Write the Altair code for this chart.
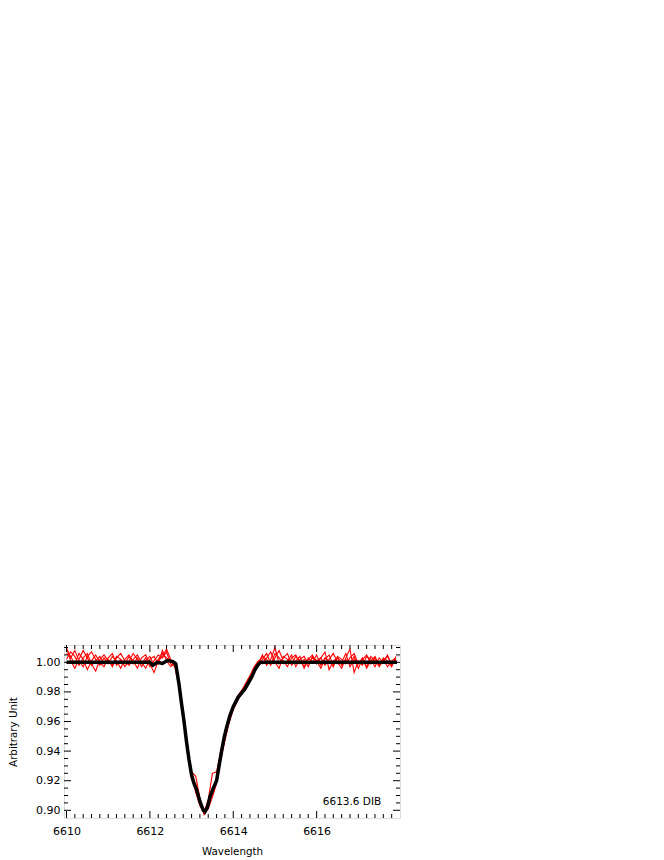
import altair as alt
import pandas as pd

# ---------------- data ----------------
WAVE_START = 6610.0
WAVE_STEP = 0.1
N_PTS = 80
WAVE = [round(WAVE_START + WAVE_STEP * i, 1) for i in range(N_PTS)]

RED_1 = [1.006, 1.003, 1.008, 1.001, 0.997, 1.004, 1.007, 1.002, 0.998, 1.003,
         0.999, 1.004, 1.001, 0.996, 1.002, 1.005, 0.999, 1.003, 0.997, 1.001,
         1.004, 0.998, 1.002, 1.006, 1.003, 1.001,
         0.998, 0.984, 0.962, 0.944, 0.922, 0.918, 0.904, 0.898, 0.905, 0.912,
         0.921, 0.938, 0.950, 0.960, 0.969, 0.976, 0.980, 0.985, 0.989, 0.996, 1.000,
         1.004, 1.002, 0.998, 1.006, 1.003, 0.999, 1.001, 1.005, 0.997, 1.002,
         1.004, 0.999, 1.003, 1.001, 0.996, 1.002, 1.005, 0.998, 1.003, 1.000,
         1.006, 0.997, 1.002, 0.999, 1.003, 0.996, 1.001, 1.004, 0.998, 1.002,
         0.997, 1.001, 1.003]
RED_2 = [1.009, 1.004, 0.999, 1.006, 1.002, 0.995, 1.001, 1.005, 1.000, 0.997,
         1.003, 1.006, 0.998, 1.002, 0.999, 1.004, 1.001, 0.996, 1.003, 1.005,
         0.999, 0.993, 1.001, 1.004, 1.009, 1.002,
         0.999, 0.986, 0.965, 0.941, 0.926, 0.923, 0.908, 0.897, 0.901, 0.909,
         0.918, 0.935, 0.947, 0.959, 0.968, 0.974, 0.979, 0.983, 0.988, 0.993, 0.999,
         1.002, 1.006, 0.999, 1.003, 1.008, 1.001, 0.997, 1.003, 1.005, 0.999,
         1.002, 0.997, 1.004, 1.001, 1.003, 0.998, 1.002, 1.006, 1.000, 0.996,
         1.003, 1.009, 0.993, 1.001, 0.998, 1.004, 1.002, 0.997, 1.003, 1.000,
         1.005, 0.998, 1.002]
RED_3 = [1.002, 1.007, 1.004, 0.998, 1.003, 1.006, 0.999, 0.994, 1.002, 1.005,
         1.001, 0.998, 1.004, 1.002, 0.997, 1.001, 1.006, 1.002, 0.999, 1.003,
         0.997, 1.001, 1.005, 1.003, 1.007, 0.999,
         0.997, 0.983, 0.960, 0.945, 0.925, 0.912, 0.903, 0.899, 0.907, 0.925,
         0.926, 0.940, 0.953, 0.962, 0.971, 0.977, 0.981, 0.986, 0.991, 0.997, 1.001,
         0.999, 1.003, 1.007, 1.000, 0.996, 1.004, 1.002, 0.999, 1.004, 1.001,
         0.997, 1.003, 1.000, 1.005, 0.998, 1.003, 1.001, 0.997, 1.004, 1.002,
         0.999, 1.003, 1.006, 0.999, 1.002, 0.997, 1.004, 1.001, 0.998, 1.003,
         1.001, 0.997, 1.004]
RED_4 = [1.010, 1.001, 0.996, 1.002, 1.008, 1.003, 0.998, 1.001, 1.004, 0.999,
         1.002, 0.997, 1.003, 1.006, 1.001, 0.998, 1.002, 1.005, 1.000, 0.996,
         1.002, 1.004, 0.999, 1.008, 1.001, 0.997,
         1.000, 0.987, 0.963, 0.939, 0.921, 0.916, 0.905, 0.900, 0.903, 0.911,
         0.919, 0.934, 0.948, 0.961, 0.969, 0.975, 0.980, 0.984, 0.990, 0.995, 0.999,
         1.005, 0.998, 1.002, 1.010, 0.999, 1.003, 1.006, 0.998, 1.001, 1.004,
         0.996, 1.002, 1.005, 0.999, 1.003, 1.007, 0.995, 1.001, 1.003, 0.998,
         1.002, 0.999, 1.004, 0.996, 1.002, 1.005, 0.999, 1.003, 0.997, 1.001,
         1.004, 0.999, 1.002]

MODEL_WAVE = [6610.0, 6612.0, 6612.07, 6612.18, 6612.3, 6612.42, 6612.55, 6612.62,
              6612.7, 6612.76, 6612.82, 6612.88, 6612.94, 6613.0, 6613.06, 6613.12,
              6613.2, 6613.28, 6613.32, 6613.38, 6613.44, 6613.52, 6613.6, 6613.66,
              6613.72, 6613.78, 6613.84, 6613.92, 6614.0, 6614.12, 6614.28, 6614.36,
              6614.44, 6614.52, 6614.6, 6614.66, 6617.93]
MODEL_FLUX = [1.000, 1.000, 0.998, 1.000, 0.9992, 1.0012, 1.0005, 0.999,
              0.985, 0.972, 0.960, 0.946, 0.934, 0.924, 0.918, 0.914,
              0.906, 0.900, 0.899, 0.902, 0.909, 0.915, 0.920, 0.930,
              0.940, 0.949, 0.956, 0.964, 0.970, 0.9765, 0.982, 0.986,
              0.990, 0.995, 0.9985, 1.000, 1.000]

X_LABELS = [6610, 6612, 6614, 6616]
Y_LABELS = [0.90, 0.92, 0.94, 0.96, 0.98, 1.00]
X_DOMAIN = [6609.94, 6618.0]
Y_DOMAIN = [0.8948, 1.0117]
X_MINOR = [round(6610 + 0.2 * i, 1) for i in range(40)]
Y_MINOR = [round(0.900 + 0.005 * i, 3) for i in range(23)]
ANNOT_TEXT = ["6613.6 DIB"]
ANNOT_X = [6617.55]
ANNOT_Y = [0.9034]

# ---------------- layout ----------------
W, H = 336, 173
FONT = "DejaVu Sans"
MAJ, MIN = 7, 4

red_rows = []
for name, vals in [("s1", RED_1), ("s2", RED_2), ("s3", RED_3), ("s4", RED_4)]:
    for w, v in zip(WAVE, vals):
        red_rows.append({"wave": w, "flux": v, "series": name})
red_df = pd.DataFrame(red_rows)
model_df = pd.DataFrame({"wave": MODEL_WAVE, "flux": MODEL_FLUX})

xscale = alt.Scale(domain=X_DOMAIN, nice=False, zero=False)
yscale = alt.Scale(domain=Y_DOMAIN, nice=False, zero=False)

x_axis = alt.Axis(values=X_LABELS, format="d", ticks=False, domain=False, grid=False,
                  labelOverlap=False, labelFlush=False,
                  labelFont=FONT, labelFontSize=11, labelFontWeight="normal",
                  labelColor="black", labelPadding=7,
                  title="Wavelength", titleFont=FONT, titleFontSize=10.3,
                  titleFontWeight="normal", titleColor="black", titlePadding=10)
y_axis = alt.Axis(values=Y_LABELS, format=".2f", ticks=False, domain=False, grid=False,
                  labelOverlap=False, labelFlush=False,
                  labelFont=FONT, labelFontSize=11, labelFontWeight="normal",
                  labelColor="black", labelPadding=4,
                  title="Arbitrary Unit", titleFont=FONT, titleFontSize=10.3,
                  titleFontWeight="normal", titleColor="black", titlePadding=17)

def X(field):
    return alt.X(field, type="quantitative", scale=xscale, axis=x_axis)

def Y(field):
    return alt.Y(field, type="quantitative", scale=yscale, axis=y_axis)

red = alt.Chart(red_df).mark_line(color="#ff0000", strokeWidth=1.1, clip=True).encode(
    x=X("wave"), y=Y("flux"), detail="series:N",
)
model = alt.Chart(model_df).mark_line(color="black", strokeWidth=3.5, clip=True).encode(
    x=X("wave"), y=Y("flux"),
)

xt = pd.DataFrame({"v": X_MINOR})
xt["len"] = [MAJ if abs(v - round(v)) < 1e-6 and int(round(v)) % 2 == 0 else MIN for v in X_MINOR]
yt = pd.DataFrame({"v": Y_MINOR})
yt["len"] = [MAJ if abs(v * 100 - round(v * 100)) < 1e-6 and int(round(v * 100)) % 2 == 0 else MIN for v in Y_MINOR]

def xticks(length, top):
    d = xt[xt["len"] == length]
    if top:
        enc = dict(y=alt.value(0), y2=alt.value(length))
    else:
        enc = dict(y=alt.value(H), y2=alt.value(H - length))
    return alt.Chart(d).mark_rule(color="black", strokeWidth=1).encode(x=X("v"), **enc)

def yticks(length, left):
    d = yt[yt["len"] == length]
    if left:
        enc = dict(x=alt.value(0), x2=alt.value(length))
    else:
        enc = dict(x=alt.value(W), x2=alt.value(W - length))
    return alt.Chart(d).mark_rule(color="black", strokeWidth=1).encode(y=Y("v"), **enc)

tick_layers = [xticks(l, t) for l in (MAJ, MIN) for t in (True, False)] + \
              [yticks(l, s) for l in (MAJ, MIN) for s in (True, False)]

annot_df = pd.DataFrame({"t": ANNOT_TEXT, "x": ANNOT_X, "y": ANNOT_Y})
annot = alt.Chart(annot_df).mark_text(align="right", baseline="alphabetic", font=FONT,
                                       fontSize=10.5, color="black").encode(
    x=X("x"), y=Y("y"), text="t:N")

chart = alt.layer(red, model, *tick_layers, annot).properties(
    width=W, height=H,
    padding={"left": 56, "top": 637, "right": 10, "bottom": 40},
    autosize="none",
).configure_view(stroke="#333333", strokeWidth=1.5).configure(background="white")

chart.save("out.html", embed_options={"renderer": "svg", "actions": False})
